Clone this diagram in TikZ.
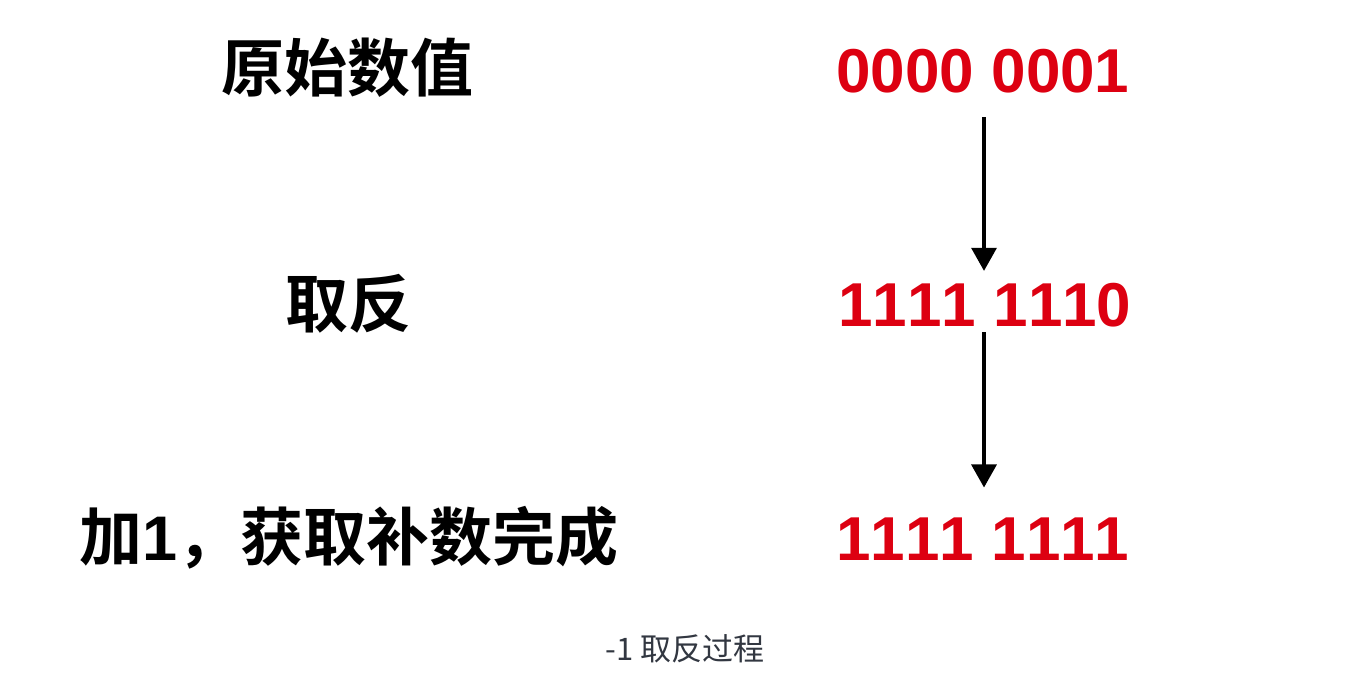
\documentclass[tikz,border=0pt]{standalone}
\usepackage{fontspec}
\usetikzlibrary{arrows.meta}
\newfontfamily\cjkbold{Noto Sans CJK SC Bold}
\newfontfamily\cjkreg{Noto Sans CJK SC}
\newfontfamily\numfont[Kerning=Off]{Liberation Sans}
\definecolor{numred}{RGB}{221,0,17}
\definecolor{capgrey}{RGB}{50,55,65}
\begin{document}
\begin{tikzpicture}[x=1pt,y=-1pt,
  label/.style={inner sep=0pt,font=\cjkbold\fontsize{63}{70}\selectfont},
  binnum/.style={inner sep=0pt,text=numred,font=\numfont\bfseries\fontsize{62}{70}\selectfont},
  caption/.style={inner sep=0pt,text=capgrey,font=\cjkreg\fontsize{31}{36}\selectfont},
  arr/.style={line width=3.2pt,-{Triangle[width=25pt,length=23pt]}}]
\fill[white] (0,0) rectangle (1372,688);
\useasboundingbox (0,0) rectangle (1372,688);
\node[label] (l1) at (347,68) {原始数值};
\node[label] (l2) at (348,304) {取反};
\node[label] (l3) at (349,538) {加{\numfont\bfseries 1}，获取补数完成};
\node[binnum] (n1) at (983,71) {0000 0001};
\node[binnum] (n2) at (985,305) {1111 1110};
\node[binnum] (n3) at (983,539) {1111 1111};
\node[caption] (cap) at (685,649) {-1 取反过程};
\draw[arr,shorten <=24pt,shorten >=12pt] ([xshift=-1pt]n1.south -| n2.north) -- ([xshift=-1pt]n2.north);
\draw[arr,shorten <=5pt,shorten >=30pt] ([xshift=-1pt]n2.south) -- ([xshift=-1pt]n3.north -| n2.south);
\end{tikzpicture}
\end{document}
